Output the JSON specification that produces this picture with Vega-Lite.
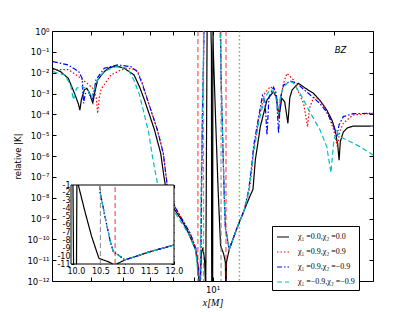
{
"$schema": "https://vega.github.io/schema/vega-lite/v6.json",
"width": 321, "height": 250,
"autosize": {"type": "none"},
"padding": {"left": 52, "top": 31, "right": 42, "bottom": 31},
"background": "white",
"config": {
  "view": {"stroke": "black", "strokeWidth": 1},
  "font": "DejaVu Sans",
  "axis": {"grid": false, "domain": false, "labelColor": "black", "tickColor": "black", "titleColor": "black", "labelFont": "DejaVu Sans", "labelOverlap": false, "labelFlush": false}
},
"datasets": {
  "vlines": [
    {"x": 9.2, "k": "red"}, {"x": 10.8, "k": "red"},
    {"x": 9.5, "k": "gray"}, {"x": 10.5, "k": "gray"},
    {"x": 11.66, "k": "green"}
  ],
  "curves": [
    {"s":"a","x":4.02,"y":-1.79},{"s":"a","x":4.2,"y":-1.95},{"s":"a","x":4.39,"y":-2.27},{"s":"a","x":4.55,"y":-3.0},{"s":"a","x":4.65,"y":-3.5},{"s":"a","x":4.69,"y":-3.8},{"s":"a","x":4.73,"y":-3.3},{"s":"a","x":4.81,"y":-2.83},{"s":"a","x":4.88,"y":-2.75},{"s":"a","x":4.95,"y":-2.95},{"s":"a","x":5.0,"y":-3.23},{"s":"a","x":5.05,"y":-3.45},{"s":"a","x":5.1,"y":-3.0},{"s":"a","x":5.19,"y":-2.35},{"s":"a","x":5.39,"y":-1.95},{"s":"a","x":5.55,"y":-1.76},{"s":"a","x":5.77,"y":-1.68},{"s":"a","x":6.04,"y":-1.79},{"s":"a","x":6.39,"y":-2.11},{"s":"a","x":6.6,"y":-2.7},{"s":"a","x":6.78,"y":-3.31},{"s":"a","x":7.0,"y":-4.1},{"s":"a","x":7.18,"y":-4.75},{"s":"a","x":7.44,"y":-5.87},{"s":"a","x":7.58,"y":-7.0},{"s":"a","x":7.7,"y":-7.8},{"s":"a","x":8.01,"y":-8.5},{"s":"a","x":8.4,"y":-9.1},{"s":"a","x":8.72,"y":-9.7},{"s":"a","x":9.08,"y":-10.5},{"s":"a","x":9.2,"y":-11.3},{"s":"a","x":9.29,"y":-12.5},{"s":"a","x":9.38,"y":-10.7},{"s":"a","x":9.47,"y":-10.4},{"s":"a","x":9.56,"y":-11.0},{"s":"a","x":9.62,"y":-12.5},{"s":"a","x":9.66,"y":-6},{"s":"a","x":9.7,"y":0.5},{"s":"a","x":9.9,"y":0.5},{"s":"a","x":9.94,"y":-1},{"s":"a","x":9.952,"y":-11},{"s":"a","x":9.96,"y":-12.5},{"s":"a","x":10.005,"y":-12.5},{"s":"a","x":10.012,"y":-11},{"s":"a","x":10.02,"y":-1},{"s":"a","x":10.03,"y":-0.05},{"s":"a","x":10.049,"y":-1.0},{"s":"a","x":10.185,"y":-4.38},{"s":"a","x":10.322,"y":-7.54},{"s":"a","x":10.424,"y":-9.44},{"s":"a","x":10.471,"y":-10.28},{"s":"a","x":10.558,"y":-10.49},{"s":"a","x":10.66,"y":-10.71},{"s":"a","x":10.762,"y":-11.1},{"s":"a","x":10.79,"y":-12.5},{"s":"a","x":10.81,"y":-12.5},{"s":"a","x":10.83,"y":-11.1},{"s":"a","x":11.0,"y":-10.49},{"s":"a","x":11.51,"y":-9.44},{"s":"a","x":11.986,"y":-8.6},{"s":"a","x":12.4,"y":-7.9},{"s":"a","x":12.6,"y":-7.6},{"s":"a","x":12.77,"y":-6.19},{"s":"a","x":13.14,"y":-4.59},{"s":"a","x":13.65,"y":-3.31},{"s":"a","x":14.17,"y":-2.91},{"s":"a","x":14.4,"y":-3.2},{"s":"a","x":14.62,"y":-4.11},{"s":"a","x":14.85,"y":-3.23},{"s":"a","x":15.1,"y":-3.4},{"s":"a","x":15.38,"y":-4.43},{"s":"a","x":15.55,"y":-3.2},{"s":"a","x":15.75,"y":-2.83},{"s":"a","x":16.34,"y":-2.51},{"s":"a","x":17.0,"y":-2.75},{"s":"a","x":17.79,"y":-2.99},{"s":"a","x":18.5,"y":-3.35},{"s":"a","x":19.2,"y":-3.79},{"s":"a","x":19.8,"y":-4.3},{"s":"a","x":20.13,"y":-4.75},{"s":"a","x":20.45,"y":-5.5},{"s":"a","x":20.6,"y":-6.2},{"s":"a","x":20.75,"y":-5.3},{"s":"a","x":21.1,"y":-4.85},{"s":"a","x":21.6,"y":-4.65},{"s":"a","x":22.3,"y":-4.57},{"s":"a","x":25,"y":-4.56},

    {"s":"b","x":4.02,"y":-1.85},{"s":"b","x":4.39,"y":-1.85},{"s":"b","x":4.66,"y":-2.19},{"s":"b","x":4.88,"y":-2.5},{"s":"b","x":5.05,"y":-2.75},{"s":"b","x":5.15,"y":-3.2},{"s":"b","x":5.19,"y":-3.95},{"s":"b","x":5.24,"y":-3.2},{"s":"b","x":5.29,"y":-2.8},{"s":"b","x":5.6,"y":-2.11},{"s":"b","x":5.93,"y":-1.87},{"s":"b","x":6.27,"y":-1.79},{"s":"b","x":6.51,"y":-1.9},{"s":"b","x":6.7,"y":-2.5},{"s":"b","x":6.9,"y":-3.31},{"s":"b","x":7.3,"y":-4.75},{"s":"b","x":7.55,"y":-5.87},{"s":"b","x":7.72,"y":-7.4},{"s":"b","x":8.1,"y":-8.5},{"s":"b","x":8.8,"y":-9.7},{"s":"b","x":9.12,"y":-10.5},{"s":"b","x":9.34,"y":-12.5},{"s":"b","x":9.4,"y":-7},{"s":"b","x":9.46,"y":-3},{"s":"b","x":9.5,"y":-1.5},{"s":"b","x":9.53,"y":0.5},{"s":"b","x":10.45,"y":0.5},{"s":"b","x":10.48,"y":-1.0},{"s":"b","x":10.491,"y":-1.85},{"s":"b","x":10.593,"y":-5.0},{"s":"b","x":10.695,"y":-7.96},{"s":"b","x":10.762,"y":-9.44},{"s":"b","x":10.864,"y":-9.86},{"s":"b","x":11.0,"y":-10.49},{"s":"b","x":11.51,"y":-9.44},{"s":"b","x":11.986,"y":-8.6},{"s":"b","x":12.3,"y":-7.8},{"s":"b","x":12.5,"y":-6.8},{"s":"b","x":12.65,"y":-5.7},{"s":"b","x":13.05,"y":-4.11},{"s":"b","x":13.47,"y":-2.99},{"s":"b","x":13.91,"y":-2.67},{"s":"b","x":14.2,"y":-2.8},{"s":"b","x":14.46,"y":-3.3},{"s":"b","x":14.6,"y":-4.2},{"s":"b","x":14.72,"y":-3.3},{"s":"b","x":15.0,"y":-2.5},{"s":"b","x":15.3,"y":-2.03},{"s":"b","x":15.87,"y":-2.35},{"s":"b","x":16.4,"y":-3.0},{"s":"b","x":16.82,"y":-3.47},{"s":"b","x":17.0,"y":-4.0},{"s":"b","x":17.2,"y":-4.6},{"s":"b","x":17.4,"y":-3.7},{"s":"b","x":17.8,"y":-3.2},{"s":"b","x":18.3,"y":-3.25},{"s":"b","x":18.9,"y":-3.6},{"s":"b","x":19.5,"y":-4.15},{"s":"b","x":20.0,"y":-4.8},{"s":"b","x":20.4,"y":-5.55},{"s":"b","x":20.7,"y":-4.8},{"s":"b","x":21.1,"y":-4.43},{"s":"b","x":22.3,"y":-4.03},{"s":"b","x":25,"y":-3.95},

    {"s":"c","x":4.02,"y":-1.47},{"s":"c","x":4.39,"y":-1.63},{"s":"c","x":4.66,"y":-1.95},{"s":"c","x":4.75,"y":-2.27},{"s":"c","x":4.79,"y":-3.47},{"s":"c","x":4.84,"y":-3.0},{"s":"c","x":4.93,"y":-2.95},{"s":"c","x":5.05,"y":-3.3},{"s":"c","x":5.14,"y":-2.35},{"s":"c","x":5.39,"y":-1.79},{"s":"c","x":5.82,"y":-1.63},{"s":"c","x":6.27,"y":-1.71},{"s":"c","x":6.51,"y":-1.95},{"s":"c","x":6.7,"y":-2.55},{"s":"c","x":6.9,"y":-3.3},{"s":"c","x":7.3,"y":-4.75},{"s":"c","x":7.55,"y":-5.87},{"s":"c","x":7.72,"y":-7.4},{"s":"c","x":8.1,"y":-8.5},{"s":"c","x":8.8,"y":-9.7},{"s":"c","x":9.12,"y":-10.5},{"s":"c","x":9.34,"y":-12.5},{"s":"c","x":9.4,"y":-7},{"s":"c","x":9.46,"y":-3},{"s":"c","x":9.5,"y":-1.5},{"s":"c","x":9.53,"y":0.5},{"s":"c","x":10.45,"y":0.5},{"s":"c","x":10.48,"y":-1.0},{"s":"c","x":10.491,"y":-1.85},{"s":"c","x":10.593,"y":-5.0},{"s":"c","x":10.695,"y":-7.96},{"s":"c","x":10.762,"y":-9.44},{"s":"c","x":10.864,"y":-9.86},{"s":"c","x":11.0,"y":-10.49},{"s":"c","x":11.51,"y":-9.44},{"s":"c","x":11.986,"y":-8.6},{"s":"c","x":12.3,"y":-7.6},{"s":"c","x":12.5,"y":-6.5},{"s":"c","x":12.65,"y":-5.5},{"s":"c","x":13.05,"y":-4.0},{"s":"c","x":13.3,"y":-3.1},{"s":"c","x":13.5,"y":-3.4},{"s":"c","x":13.65,"y":-5.0},{"s":"c","x":13.8,"y":-3.2},{"s":"c","x":14.17,"y":-2.7},{"s":"c","x":14.4,"y":-3.0},{"s":"c","x":14.58,"y":-4.9},{"s":"c","x":14.75,"y":-3.2},{"s":"c","x":15.0,"y":-2.6},{"s":"c","x":15.58,"y":-2.4},{"s":"c","x":16.17,"y":-2.5},{"s":"c","x":16.82,"y":-2.8},{"s":"c","x":17.79,"y":-3.2},{"s":"c","x":18.5,"y":-3.5},{"s":"c","x":19.2,"y":-3.9},{"s":"c","x":20.0,"y":-4.6},{"s":"c","x":20.33,"y":-5.07},{"s":"c","x":20.6,"y":-4.5},{"s":"c","x":21.1,"y":-4.11},{"s":"c","x":22.3,"y":-3.97},{"s":"c","x":25,"y":-3.95},

    {"s":"d","x":4.02,"y":-1.95},{"s":"d","x":4.3,"y":-2.11},{"s":"d","x":4.45,"y":-2.6},{"s":"d","x":4.52,"y":-3.3},{"s":"d","x":4.6,"y":-2.75},{"s":"d","x":4.75,"y":-2.67},{"s":"d","x":4.9,"y":-2.8},{"s":"d","x":5.0,"y":-3.2},{"s":"d","x":5.08,"y":-2.9},{"s":"d","x":5.14,"y":-2.5},{"s":"d","x":5.29,"y":-2.11},{"s":"d","x":5.49,"y":-1.87},{"s":"d","x":5.77,"y":-1.71},{"s":"d","x":6.16,"y":-1.79},{"s":"d","x":6.4,"y":-2.4},{"s":"d","x":6.6,"y":-3.1},{"s":"d","x":6.95,"y":-4.9},{"s":"d","x":7.1,"y":-6.05},{"s":"d","x":7.3,"y":-7.3},{"s":"d","x":7.6,"y":-8.0},{"s":"d","x":8.0,"y":-8.6},{"s":"d","x":8.7,"y":-9.7},{"s":"d","x":9.08,"y":-10.5},{"s":"d","x":9.3,"y":-12.5},{"s":"d","x":9.38,"y":-7},{"s":"d","x":9.45,"y":-3},{"s":"d","x":9.49,"y":-1.5},{"s":"d","x":9.52,"y":0.5},{"s":"d","x":10.45,"y":0.5},{"s":"d","x":10.48,"y":-1.0},{"s":"d","x":10.491,"y":-1.85},{"s":"d","x":10.593,"y":-5.0},{"s":"d","x":10.695,"y":-7.96},{"s":"d","x":10.762,"y":-9.44},{"s":"d","x":10.864,"y":-9.86},{"s":"d","x":11.0,"y":-10.49},{"s":"d","x":11.51,"y":-9.44},{"s":"d","x":11.986,"y":-8.6},{"s":"d","x":12.3,"y":-7.7},{"s":"d","x":12.5,"y":-6.6},{"s":"d","x":12.65,"y":-5.8},{"s":"d","x":13.05,"y":-4.3},{"s":"d","x":13.47,"y":-3.2},{"s":"d","x":13.91,"y":-2.8},{"s":"d","x":14.3,"y":-3.0},{"s":"d","x":14.58,"y":-4.0},{"s":"d","x":14.75,"y":-3.1},{"s":"d","x":15.0,"y":-2.7},{"s":"d","x":15.5,"y":-2.4},{"s":"d","x":15.87,"y":-2.5},{"s":"d","x":16.5,"y":-3.0},{"s":"d","x":17.15,"y":-3.63},{"s":"d","x":17.8,"y":-4.2},{"s":"d","x":18.48,"y":-4.75},{"s":"d","x":19.2,"y":-5.55},{"s":"d","x":19.66,"y":-6.8},{"s":"d","x":20.0,"y":-5.23},{"s":"d","x":20.33,"y":-4.8},{"s":"d","x":20.7,"y":-5.07},{"s":"d","x":21.5,"y":-5.23},{"s":"d","x":23.2,"y":-5.55},{"s":"d","x":25,"y":-5.95}
  ],
  "inset": [
    {"s":"a","g":1,"x":9.94,"y":-1},{"s":"a","g":1,"x":9.952,"y":-11},
    {"s":"a","g":2,"x":10.012,"y":-11},{"s":"a","g":2,"x":10.02,"y":-1},
    {"s":"a","g":3,"x":10.049,"y":-1.0},{"s":"a","g":3,"x":10.185,"y":-4.38},{"s":"a","g":3,"x":10.322,"y":-7.54},{"s":"a","g":3,"x":10.424,"y":-9.44},{"s":"a","g":3,"x":10.471,"y":-10.28},{"s":"a","g":3,"x":10.558,"y":-10.49},{"s":"a","g":3,"x":10.66,"y":-10.71},{"s":"a","g":3,"x":10.75,"y":-11},
    {"s":"a","g":4,"x":10.83,"y":-11},{"s":"a","g":4,"x":11.0,"y":-10.49},{"s":"a","g":4,"x":11.51,"y":-9.44},{"s":"a","g":4,"x":12.0,"y":-8.6},
    {"s":"b","g":1,"x":10.48,"y":-1.0},{"s":"b","g":1,"x":10.491,"y":-1.85},{"s":"b","g":1,"x":10.593,"y":-5.0},{"s":"b","g":1,"x":10.695,"y":-7.96},{"s":"b","g":1,"x":10.762,"y":-9.44},{"s":"b","g":1,"x":10.864,"y":-9.86},{"s":"b","g":1,"x":11.0,"y":-10.49},{"s":"b","g":1,"x":11.51,"y":-9.44},{"s":"b","g":1,"x":12.0,"y":-8.6},
    {"s":"c","g":1,"x":10.48,"y":-1.0},{"s":"c","g":1,"x":10.491,"y":-1.85},{"s":"c","g":1,"x":10.593,"y":-5.0},{"s":"c","g":1,"x":10.695,"y":-7.96},{"s":"c","g":1,"x":10.762,"y":-9.44},{"s":"c","g":1,"x":10.864,"y":-9.86},{"s":"c","g":1,"x":11.0,"y":-10.49},{"s":"c","g":1,"x":11.51,"y":-9.44},{"s":"c","g":1,"x":12.0,"y":-8.6},
    {"s":"d","g":1,"x":10.48,"y":-1.0},{"s":"d","g":1,"x":10.491,"y":-1.85},{"s":"d","g":1,"x":10.593,"y":-5.0},{"s":"d","g":1,"x":10.695,"y":-7.96},{"s":"d","g":1,"x":10.762,"y":-9.44},{"s":"d","g":1,"x":10.864,"y":-9.86},{"s":"d","g":1,"x":11.0,"y":-10.49},{"s":"d","g":1,"x":11.51,"y":-9.44},{"s":"d","g":1,"x":12.0,"y":-8.6}
  ]
},
"layer": [
  {
    "layer": [
      {
        "data": {"name": "curves"},
        "mark": {"type": "line", "clip": true, "strokeWidth": 1.2},
        "encoding": {
          "x": {"field": "x", "type": "quantitative", "scale": {"type": "log", "domain": [4, 25], "nice": false},
                "axis": {"orient": "bottom", "values": [5, 6, 7, 8, 9, 10, 20], "labelExpr": "datum.value == 10 ? '10¹' : ''", "tickSize": -4, "labelPadding": 8, "labelFontSize": 8.5, "title": "x[M]", "titleFont": "Liberation Serif", "titleFontStyle": "italic", "titleFontWeight": "normal", "titleFontSize": 10, "titleY": 16, "titleBaseline": "top"}},
          "y": {"field": "y", "type": "quantitative", "scale": {"domain": [-12, 0], "nice": false, "zero": false},
                "axis": {"orient": "left", "values": [-12, -11, -10, -9, -8, -7, -6, -5, -4, -3, -2, -1, 0], "labelExpr": "'10' + (datum.value < 0 ? '⁻' : '') + (abs(datum.value) >= 10 ? '¹' + ['⁰','¹','²'][abs(datum.value) - 10] : ['⁰','¹','²','³','⁴','⁵','⁶','⁷','⁸','⁹'][abs(datum.value)])", "tickSize": -4, "labelPadding": 7, "labelFontSize": 8.5, "title": "relative |K|", "titleFontWeight": "normal", "titleFontSize": 8.5, "titleX": -35, "titleY": 125, "titleAngle": 270, "titleBaseline": "middle", "titleAlign": "center"}},
          "color": {"field": "s", "type": "nominal", "scale": {"domain": ["a", "b", "c", "d"], "range": ["#000000", "#ff0000", "#0000ff", "#00bfbf"]},
                    "legend": {"orient": "none", "legendX": 220, "legendY": 195, "title": null, "symbolType": "stroke", "symbolSize": 144, "symbolStrokeWidth": 1.2, "labelFont": "Liberation Serif", "labelFontSize": 8, "labelOffset": 8, "padding": 4, "rowPadding": 4, "strokeColor": "black", "fillColor": "white", "cornerRadius": 0,
                               "labelExpr": "datum.label == 'a' ? 'χ₁ =0.0,χ₂ =0.0' : datum.label == 'b' ? 'χ₁ =0.9,χ₂ =0.9' : datum.label == 'c' ? 'χ₁ =0.9,χ₂ =−0.9' : 'χ₁ =−0.9,χ₂ =−0.9'"}},
          "strokeDash": {"field": "s", "type": "nominal", "scale": {"domain": ["a", "b", "c", "d"], "range": [[1, 0], [1.5, 2], [5, 2, 1.5, 2], [5, 3]]},
                    "legend": {"orient": "none", "legendX": 220, "legendY": 195, "title": null, "symbolType": "stroke", "symbolSize": 144, "symbolStrokeWidth": 1.2, "labelFont": "Liberation Serif", "labelFontSize": 8, "labelOffset": 8, "padding": 4, "rowPadding": 4, "strokeColor": "black", "fillColor": "white", "cornerRadius": 0,
                               "labelExpr": "datum.label == 'a' ? 'χ₁ =0.0,χ₂ =0.0' : datum.label == 'b' ? 'χ₁ =0.9,χ₂ =0.9' : datum.label == 'c' ? 'χ₁ =0.9,χ₂ =−0.9' : 'χ₁ =−0.9,χ₂ =−0.9'"}}
        }
      },
      {
        "data": {"name": "vlines"},
        "transform": [{"filter": "datum.k == 'red'"}],
        "mark": {"type": "rule", "stroke": "#ff0000", "strokeOpacity": 0.55, "strokeWidth": 1.5, "strokeDash": [5, 3]},
        "encoding": {"x": {"field": "x", "type": "quantitative", "axis": null}}
      },
      {
        "data": {"name": "vlines"},
        "transform": [{"filter": "datum.k == 'gray'"}],
        "mark": {"type": "rule", "stroke": "#808080", "strokeOpacity": 0.8, "strokeWidth": 1.2, "strokeDash": [5, 3]},
        "encoding": {"x": {"field": "x", "type": "quantitative", "axis": null}}
      },
      {
        "data": {"name": "vlines"},
        "transform": [{"filter": "datum.k == 'green'"}],
        "mark": {"type": "rule", "stroke": "#008000", "strokeOpacity": 0.55, "strokeWidth": 1.5, "strokeDash": [1.5, 2.5]},
        "encoding": {"x": {"field": "x", "type": "quantitative", "axis": null}}
      },
      {
        "data": {"values": [{}]},
        "mark": {"type": "text", "text": "BZ", "fontStyle": "italic", "fontSize": 8.5, "align": "center", "baseline": "middle", "color": "black"},
        "encoding": {
          "x": {"datum": 20.77, "type": "quantitative", "axis": null},
          "y": {"datum": -0.89, "type": "quantitative", "axis": null}
        }
      },
      {
        "data": {"values": [{}]},
        "mark": {"type": "point", "opacity": 0},
        "encoding": {
          "x": {"datum": 10, "type": "quantitative", "axis": {"orient": "top", "values": [5, 6, 7, 8, 9, 10, 20], "labels": false, "tickSize": -4, "title": null}},
          "y": {"datum": -5, "type": "quantitative", "axis": {"orient": "right", "values": [-12, -11, -10, -9, -8, -7, -6, -5, -4, -3, -2, -1, 0], "labels": false, "tickSize": -4, "title": null}}
        }
      }
    ],
    "resolve": {"axis": {"x": "independent", "y": "independent"}}
  },
  {
    "layer": [
      {
        "data": {"values": [{}]},
        "mark": {"type": "rect", "fill": "white", "stroke": "black", "strokeWidth": 1},
        "encoding": {
          "x": {"datum": 9.9, "type": "quantitative", "scale": {"domain": [9.9, 12.0], "range": [19, 122], "nice": false, "zero": false},
                "axis": {"orient": "bottom", "offset": -17, "values": [10, 10.5, 11, 11.5, 12], "format": ".1f", "tickSize": -3, "labelPadding": 6, "labelFontSize": 8, "title": null}},
          "x2": {"datum": 12.0},
          "y": {"datum": -11, "type": "quantitative", "scale": {"domain": [-11, -1], "range": [233, 154], "nice": false, "zero": false},
                "axis": {"orient": "left", "offset": -19, "values": [-1, -2, -3, -4, -5, -6, -7, -8, -9, -10, -11], "labelExpr": "'' + datum.value", "tickSize": -3, "labelPadding": 4, "labelFontSize": 8, "title": null}},
          "y2": {"datum": -1}
        }
      },
      {
        "data": {"name": "inset"},
        "mark": {"type": "line", "strokeWidth": 1.2},
        "encoding": {
          "x": {"field": "x", "type": "quantitative", "axis": null},
          "y": {"field": "y", "type": "quantitative", "axis": null},
          "color": {"field": "s", "type": "nominal"},
          "strokeDash": {"field": "s", "type": "nominal"},
          "detail": {"field": "g"}
        }
      },
      {
        "data": {"name": "vlines"},
        "transform": [{"filter": "datum.k == 'red' && datum.x > 9.9"}],
        "mark": {"type": "rule", "stroke": "#ff0000", "strokeOpacity": 0.55, "strokeWidth": 1.5, "strokeDash": [5, 3]},
        "encoding": {"x": {"field": "x", "type": "quantitative", "axis": null}, "y": {"datum": -11, "type": "quantitative", "axis": null}, "y2": {"datum": -1}}
      },
      {
        "data": {"name": "vlines"},
        "transform": [{"filter": "datum.k == 'gray' && datum.x > 9.9"}],
        "mark": {"type": "rule", "stroke": "#808080", "strokeOpacity": 0.8, "strokeWidth": 1.2, "strokeDash": [5, 3]},
        "encoding": {"x": {"field": "x", "type": "quantitative", "axis": null}, "y": {"datum": -11, "type": "quantitative", "axis": null}, "y2": {"datum": -1}}
      },
      {
        "data": {"values": [{}]},
        "mark": {"type": "point", "opacity": 0},
        "encoding": {
          "x": {"datum": 11, "type": "quantitative", "axis": {"orient": "top", "offset": -154, "values": [10, 10.5, 11, 11.5, 12], "labels": false, "tickSize": -3, "title": null}},
          "y": {"datum": -5, "type": "quantitative", "axis": {"orient": "right", "offset": -199, "values": [-1, -2, -3, -4, -5, -6, -7, -8, -9, -10, -11], "labels": false, "tickSize": -3, "title": null}}
        }
      }
    ],
    "resolve": {"axis": {"x": "independent", "y": "independent"}}
  }
],
"resolve": {"scale": {"x": "independent", "y": "independent"}, "axis": {"x": "independent", "y": "independent"}}
}
